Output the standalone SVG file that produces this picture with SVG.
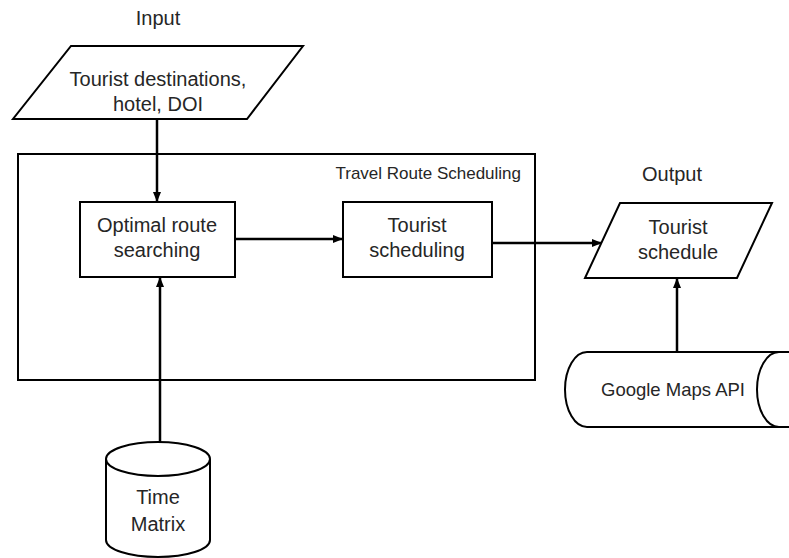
<svg xmlns="http://www.w3.org/2000/svg" width="789" height="558" viewBox="0 0 789 558">
<style>
.s{fill:#fff;stroke:#000;stroke-width:2}
.t{font-family:"Liberation Sans",Arial,sans-serif;font-size:20px;fill:#262626;text-anchor:middle}
.c{fill:none;stroke:#000;stroke-width:2.5}
</style>
<defs>
<marker id="ah" markerWidth="10" markerHeight="10" refX="9" refY="5" orient="auto" markerUnits="userSpaceOnUse">
<path d="M0,1 L10,5 L0,9 Z" fill="#000"/>
</marker>
</defs>
<rect width="789" height="558" fill="#fff"/>
<g id="frame">
<rect x="18" y="154" width="517" height="226" class="s"/>
<text x="521" y="179" class="t" style="text-anchor:end;font-size:17px">Travel Route Scheduling</text>
</g>
<g id="input-label"><text x="158" y="25" class="t">Input</text></g>
<g id="output-label"><text x="672" y="181" class="t">Output</text></g>
<g id="input">
<polygon points="71,46 303,46 247,119 13,119" class="s"/>
<text x="158" y="86" class="t">Tourist destinations,</text>
<text x="158" y="111" class="t">hotel, DOI</text>
</g>
<g id="optimal">
<rect x="80" y="202" width="155" height="75" class="s"/>
<text x="157" y="232" class="t">Optimal route</text>
<text x="157" y="257" class="t">searching</text>
</g>
<g id="tourist-scheduling">
<rect x="343" y="202" width="149" height="75" class="s"/>
<text x="417" y="232" class="t">Tourist</text>
<text x="417" y="257" class="t">scheduling</text>
</g>
<g id="output">
<polygon points="620,203 772,203 737,278 585,278" class="s"/>
<text x="678" y="234" class="t">Tourist</text>
<text x="678" y="259" class="t">schedule</text>
</g>
<g id="google">
<path d="M587,352 L800,352 L800,427 L587,427 A22,37.5 0 0 1 587,352 Z" class="s"/>
<path d="M779,352 A22,37.5 0 0 0 779,427" fill="none" stroke="#000" stroke-width="2"/>
<text x="673" y="396" class="t" style="font-size:18.5px">Google Maps API</text>
</g>
<g id="time-matrix">
<path d="M106,459 L106,540 A52,17 0 0 0 210,540 L210,459" class="s"/>
<ellipse cx="158" cy="459" rx="52" ry="17" class="s"/>
<text x="158" y="504" class="t">Time</text>
<text x="158" y="531" class="t">Matrix</text>
</g>
<g id="connectors">
<line x1="157" y1="120" x2="157" y2="201" class="c" marker-end="url(#ah)"/>
<line x1="160" y1="442" x2="160" y2="278" class="c" marker-end="url(#ah)"/>
<line x1="235" y1="239" x2="342" y2="239" class="c" marker-end="url(#ah)"/>
<line x1="492" y1="243" x2="601" y2="243" class="c" marker-end="url(#ah)"/>
<line x1="677" y1="352" x2="677" y2="279" class="c" marker-end="url(#ah)"/>
</g>
</svg>
